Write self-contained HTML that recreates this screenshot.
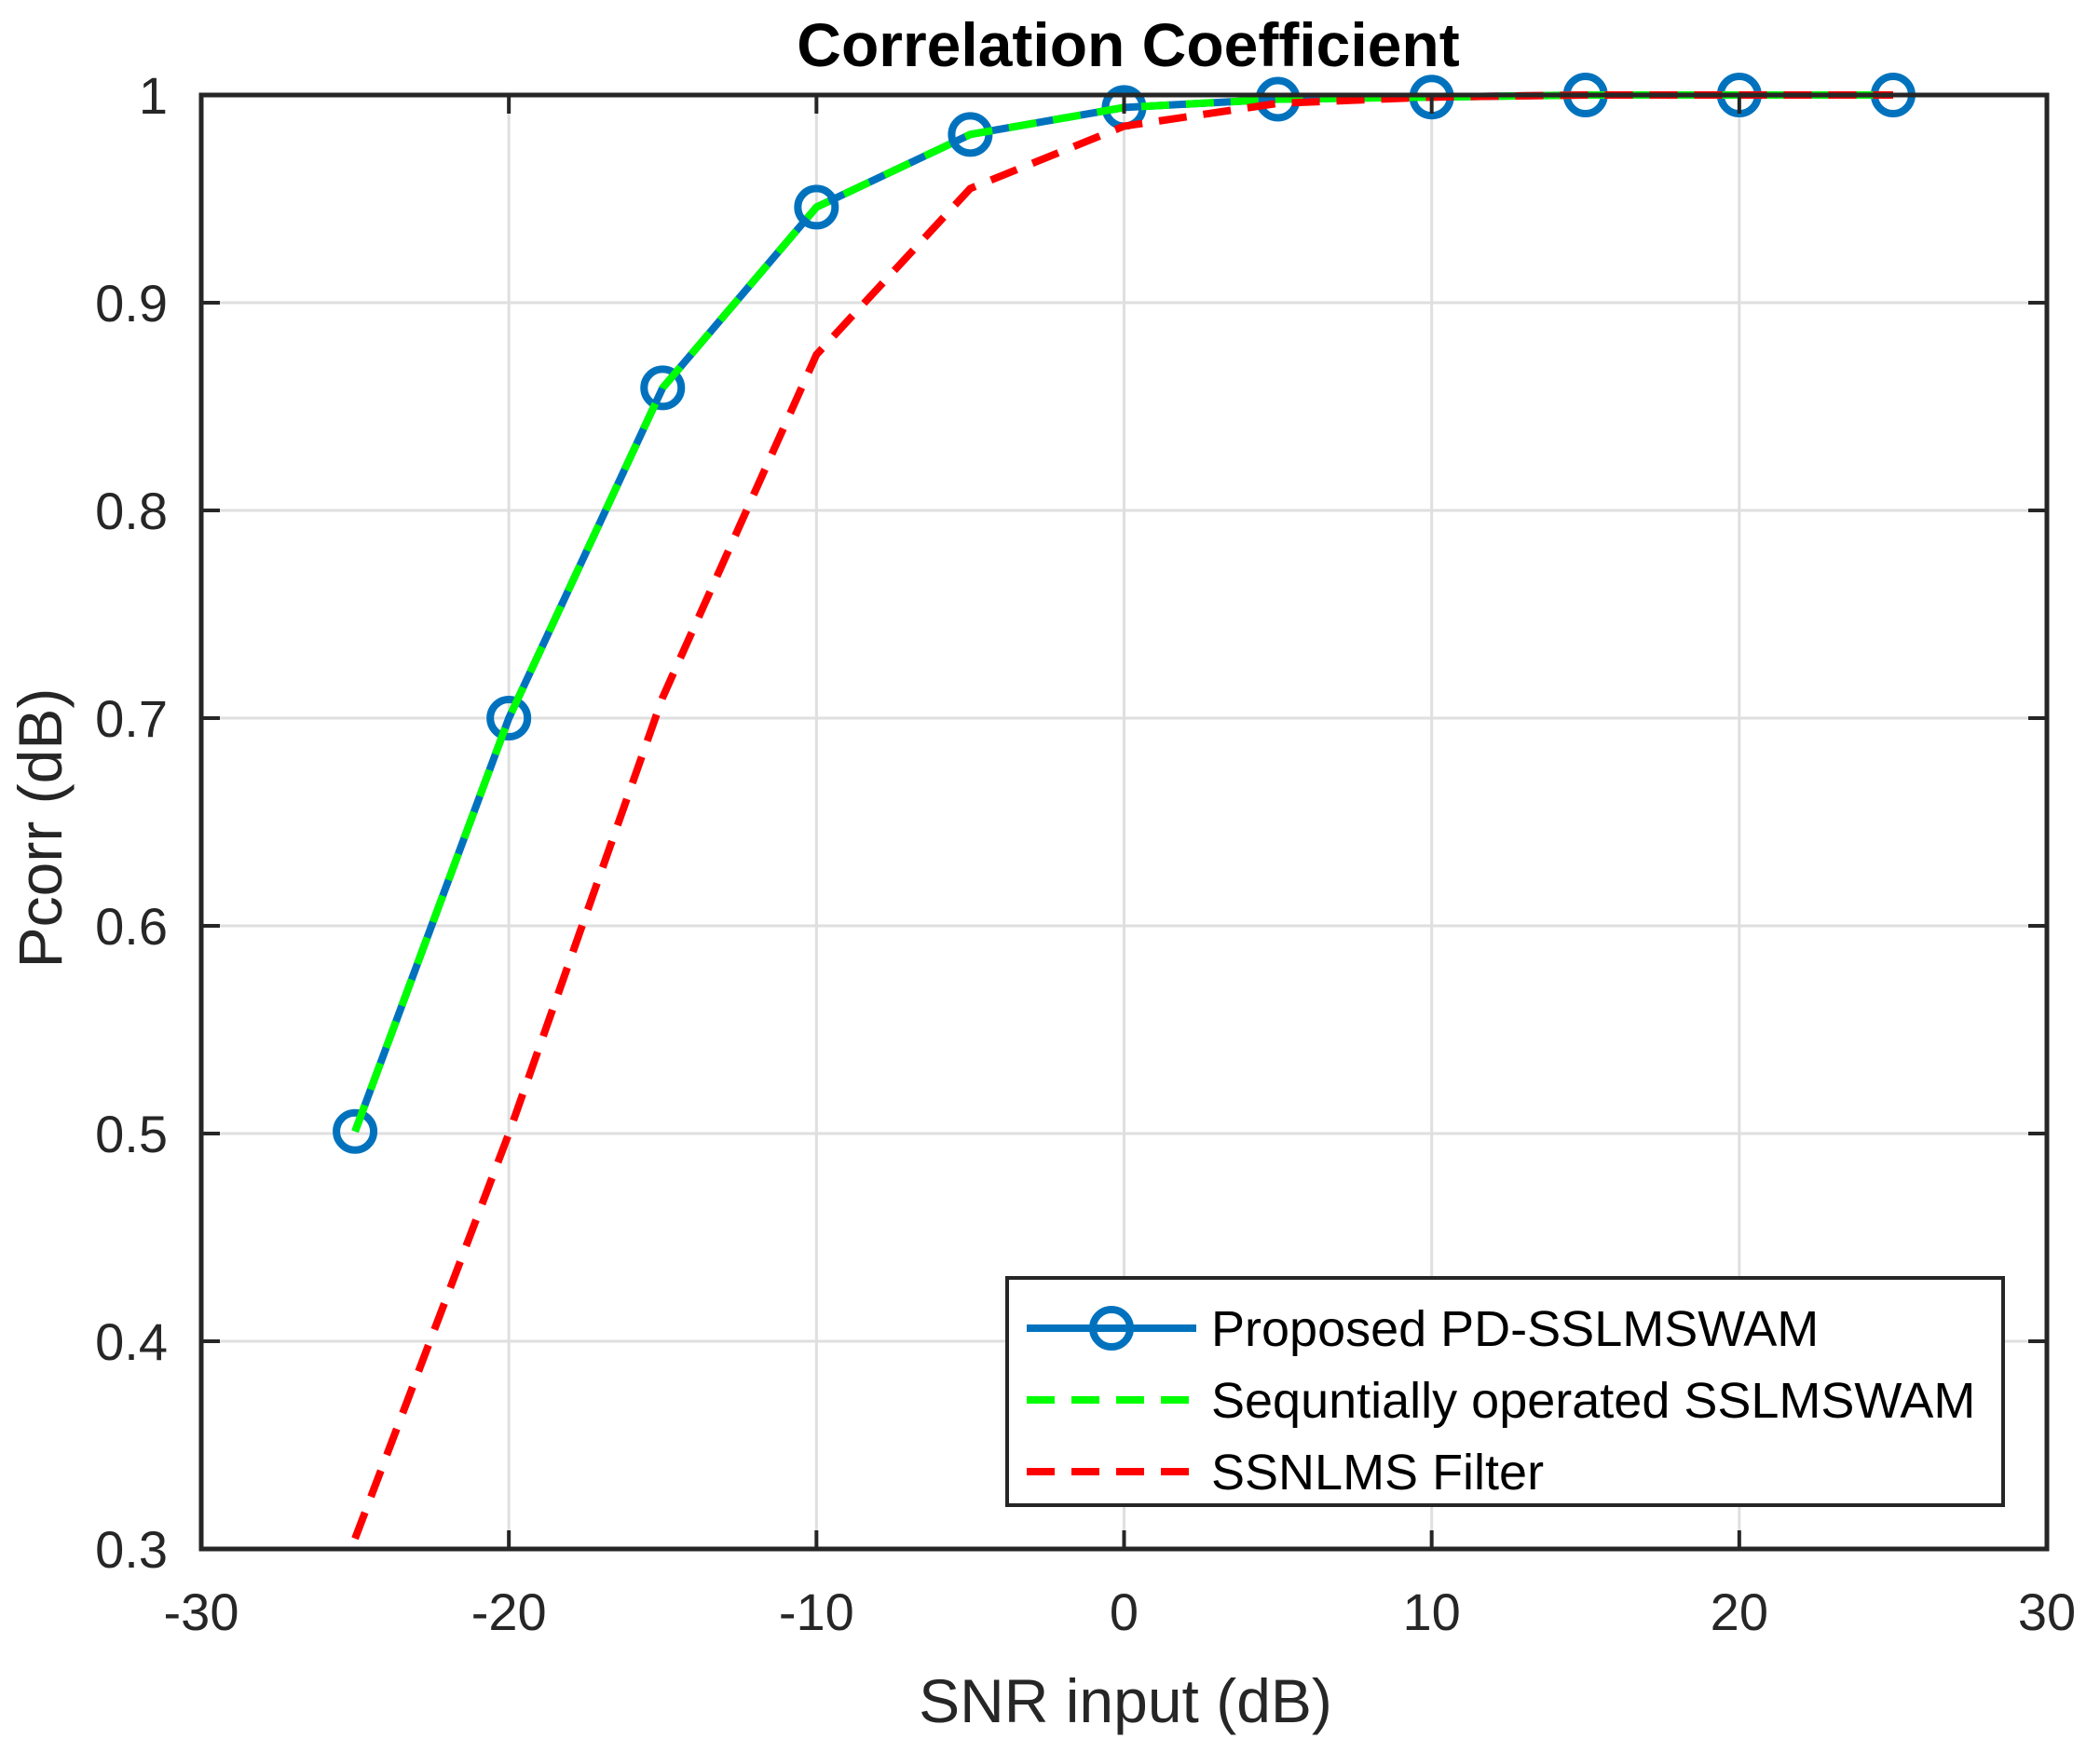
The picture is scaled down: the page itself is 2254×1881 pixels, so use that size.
<!DOCTYPE html>
<html><head><meta charset="utf-8"><style>
body{margin:0;background:#fff}
svg{display:block;font-family:"Liberation Sans",Arial,sans-serif}
</style></head><body>
<svg id="chart" width="2254" height="1881" viewBox="0 0 2254 1881" xmlns="http://www.w3.org/2000/svg">
<rect width="2254" height="1881" fill="#fff"/>
<g id="grid"></g>
<g id="series"></g>
<g id="axes"></g>
<text x="1211" y="71" font-size="66" font-weight="bold" text-anchor="middle" fill="#000">Correlation Coefficient</text>
<text x="1208" y="1849" font-size="66" text-anchor="middle" fill="#262626">SNR input (dB)</text>
<text transform="translate(66,889) rotate(-90)" font-size="66" text-anchor="middle" fill="#262626">Pcorr (dB)</text>
<g>
<rect x="1081" y="1372" width="1069" height="244" fill="#fff" stroke="#262626" stroke-width="4"/>
<g>
<line x1="1102" y1="1426" x2="1284" y2="1426" stroke="#0072BD" stroke-width="8"/>
<circle cx="1193" cy="1426" r="20" fill="none" stroke="#0072BD" stroke-width="8"/>
<text x="1300" y="1445" font-size="54" fill="#000">Proposed PD-SSLMSWAM</text></g>
<g>
<line x1="1102" y1="1503" x2="1284" y2="1503" stroke="#00FF00" stroke-width="8" stroke-dasharray="30,18"/>
<text x="1300" y="1522" font-size="54" fill="#000">Sequntially operated SSLMSWAM</text></g>
<g>
<line x1="1102" y1="1580" x2="1284" y2="1580" stroke="#FF0000" stroke-width="8" stroke-dasharray="30,18"/>
<text x="1300" y="1599" font-size="54" fill="#000">SSNLMS Filter</text></g>
</g>
<script>
const snr=[-25,-20,-15,-10,-5,0,5,10,15,20,25];
const proposed=[0.501,0.700,0.859,0.946,0.981,0.994,0.998,0.999,1.0,1.0,1.0];
const sequential=[0.501,0.700,0.859,0.946,0.981,0.994,0.998,0.999,1.0,1.0,1.0];
const ssnlms=[0.305,0.500,0.710,0.875,0.955,0.985,0.996,0.999,1.0,1.0,1.0];
const xTicks=[-30,-20,-10,0,10,20,30];
const yTicks=[0.3,0.4,0.5,0.6,0.7,0.8,0.9,1];
const yTickLabels=["0.3","0.4","0.5","0.6","0.7","0.8","0.9","1"];
const L=216,R=2197,T=102,B=1663;
const sx=v=>L+(v+30)/60*(R-L);
const sy=v=>B-(v-0.3)/0.7*(B-T);
const NS="http://www.w3.org/2000/svg";
function mk(tag,attrs,parent){const e=document.createElementNS(NS,tag);for(const k in attrs)e.setAttribute(k,attrs[k]);parent.appendChild(e);return e;}
const grid=document.getElementById('grid'),axes=document.getElementById('axes'),ser=document.getElementById('series');
xTicks.forEach(t=>{
 const g=mk('line',{x1:sx(t),x2:sx(t),y1:T,y2:B,stroke:'#dfdfdf','stroke-width':3},grid);
 
 
 mk('line',{x1:sx(t),x2:sx(t),y1:B,y2:B-20,stroke:'#262626','stroke-width':4},axes);
 mk('line',{x1:sx(t),x2:sx(t),y1:T,y2:T+20,stroke:'#262626','stroke-width':4},axes);
 const tx=mk('text',{x:sx(t),y:1750,'font-size':56,'text-anchor':'middle',fill:'#262626'},axes);
 tx.textContent=String(t);
 
 
});
yTicks.forEach((t,i)=>{
 const g=mk('line',{x1:L,x2:R,y1:sy(t),y2:sy(t),stroke:'#dfdfdf','stroke-width':3},grid);
 
 
 mk('line',{x1:L,x2:L+20,y1:sy(t),y2:sy(t),stroke:'#262626','stroke-width':4},axes);
 mk('line',{x1:R,x2:R-20,y1:sy(t),y2:sy(t),stroke:'#262626','stroke-width':4},axes);
 const tx=mk('text',{x:180,y:sy(t)+20,'font-size':56,'text-anchor':'end',fill:'#262626'},axes);
 tx.textContent=yTickLabels[i];
 
 
});
const box=mk('rect',{x:L,y:T,width:R-L,height:B-T,fill:'none',stroke:'#262626','stroke-width':5},axes);


function pts(arr){return snr.map((x,i)=>sx(x)+','+sy(arr[i])).join(' ');}
const p1=mk('polyline',{points:pts(proposed),fill:'none',stroke:'#0072BD','stroke-width':8,'stroke-linejoin':'round'},ser);


snr.forEach((x,i)=>{
 const c=mk('circle',{cx:sx(x),cy:sy(proposed[i]),r:20,fill:'none',stroke:'#0072BD','stroke-width':8},ser);
 
 
});
const p2=mk('polyline',{points:pts(sequential),fill:'none',stroke:'#00FF00','stroke-width':8,'stroke-dasharray':'30,18'},ser);


const p3=mk('polyline',{points:pts(ssnlms),fill:'none',stroke:'#FF0000','stroke-width':8,'stroke-dasharray':'30,18'},ser);


</script>
</svg>
</body></html>
